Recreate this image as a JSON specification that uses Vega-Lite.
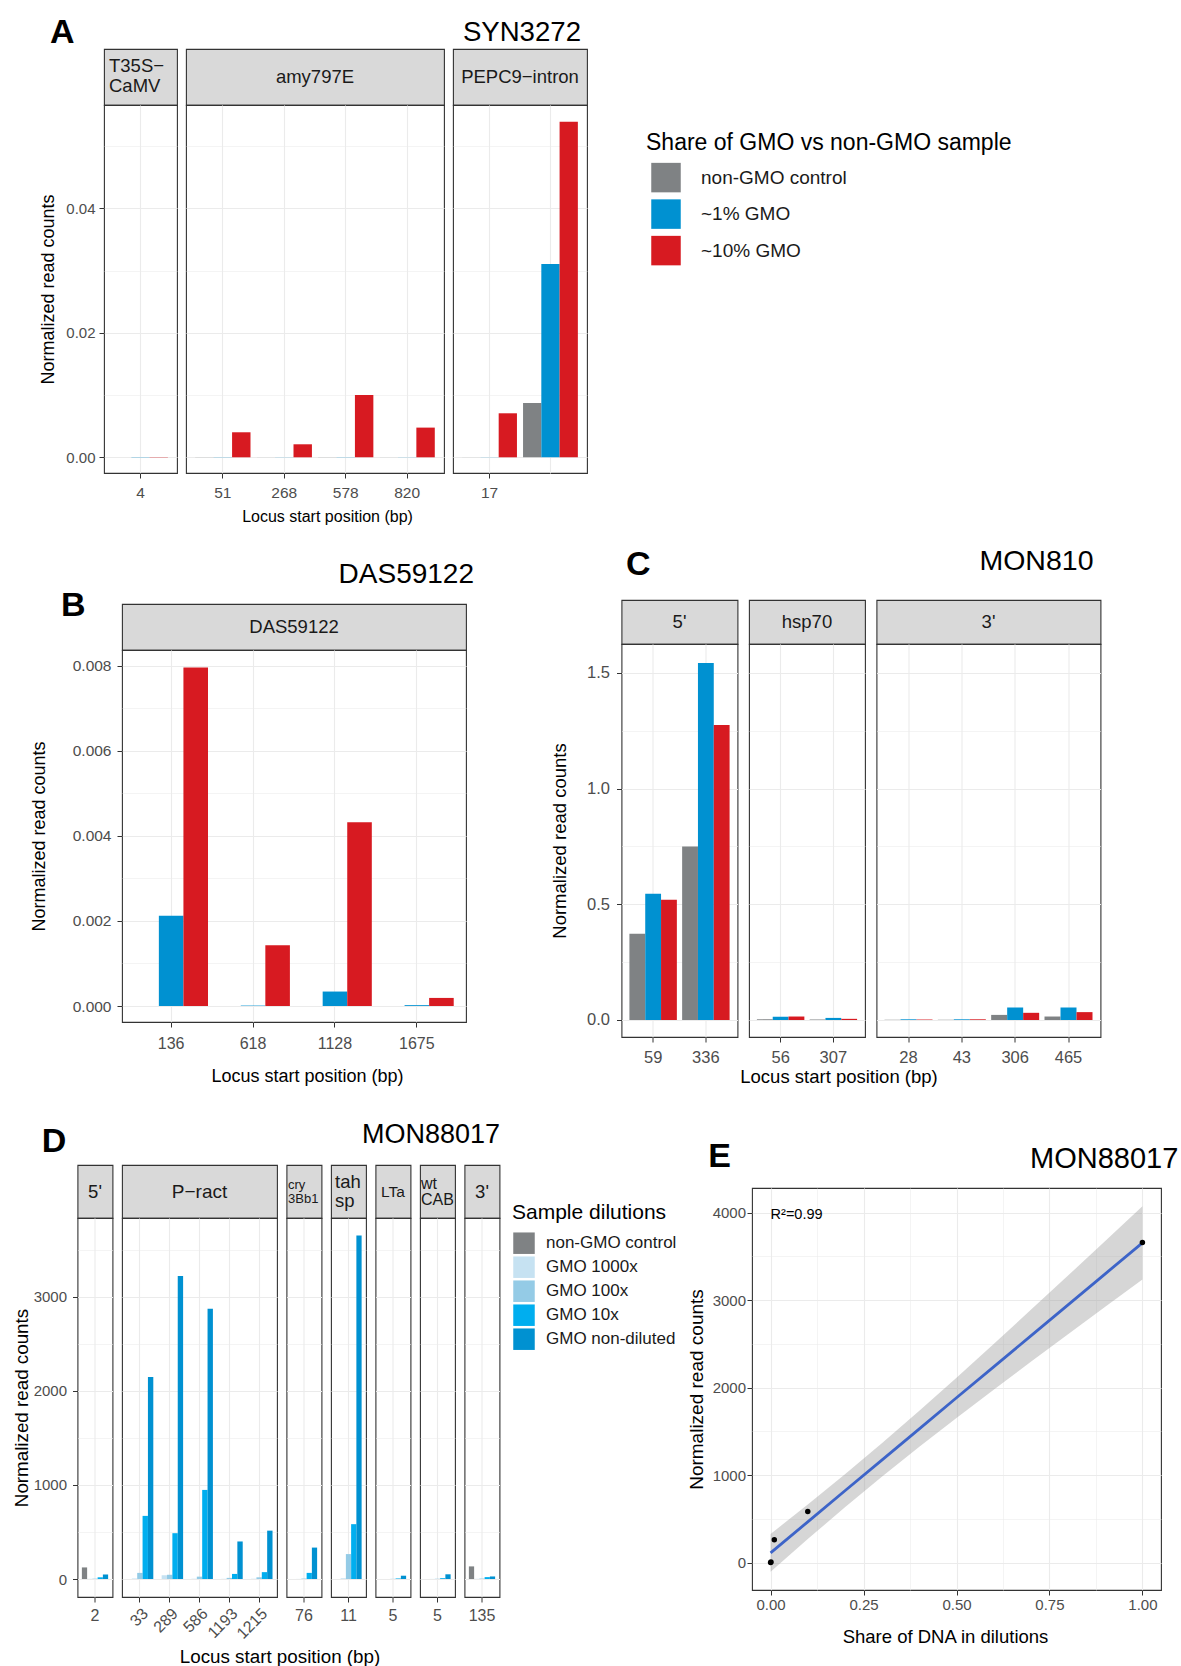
{
"$schema": "https://vega.github.io/schema/vega-lite/v6.json",
"padding": 0,
"background": "#ffffff",
"config": {
 "font": "Liberation Sans",
 "view": {"stroke": null},
 "axis": {"domain": false, "tickColor": "#333333", "tickWidth": 1, "tickSize": 5, "labelColor": "#4d4d4d", "titleColor": "#000000", "titleFontWeight": "normal", "gridColor": "#ebebeb", "labelFlush": false, "labelOverlap": false, "labelFont": "Liberation Sans", "titleFont": "Liberation Sans"},
 "title": {"font": "Liberation Sans", "color": "#000000", "fontWeight": "normal", "baseline": "alphabetic", "frame": "group"},
 "legend": {"padding": 0, "titleFont": "Liberation Sans", "labelFont": "Liberation Sans", "titleFontWeight": "normal", "titleColor": "#000000", "labelColor": "#1a1a1a", "symbolType": "square", "symbolStrokeWidth": 0, "titleLimit": 800, "labelLimit": 400}
},
"datasets": {
 "A": [
  {"region":"T35S","locus":"4","sample":"non-GMO control","value":0},
  {"region":"T35S","locus":"4","sample":"~1% GMO","value":0.00004},
  {"region":"T35S","locus":"4","sample":"~10% GMO","value":0.00005},
  {"region":"amy797E","locus":"51","sample":"non-GMO control","value":0.00002},
  {"region":"amy797E","locus":"51","sample":"~1% GMO","value":0.00003},
  {"region":"amy797E","locus":"51","sample":"~10% GMO","value":0.00402},
  {"region":"amy797E","locus":"268","sample":"non-GMO control","value":0.00001},
  {"region":"amy797E","locus":"268","sample":"~1% GMO","value":0.00002},
  {"region":"amy797E","locus":"268","sample":"~10% GMO","value":0.00209},
  {"region":"amy797E","locus":"578","sample":"non-GMO control","value":0.00002},
  {"region":"amy797E","locus":"578","sample":"~1% GMO","value":0.00003},
  {"region":"amy797E","locus":"578","sample":"~10% GMO","value":0.01001},
  {"region":"amy797E","locus":"820","sample":"non-GMO control","value":0.00001},
  {"region":"amy797E","locus":"820","sample":"~1% GMO","value":0.00002},
  {"region":"amy797E","locus":"820","sample":"~10% GMO","value":0.00477},
  {"region":"PEPC9","locus":"17","sample":"non-GMO control","value":0.00001},
  {"region":"PEPC9","locus":"17","sample":"~1% GMO","value":0.00002},
  {"region":"PEPC9","locus":"17","sample":"~10% GMO","value":0.00707},
  {"region":"PEPC9","locus":"?","sample":"non-GMO control","value":0.00873},
  {"region":"PEPC9","locus":"?","sample":"~1% GMO","value":0.03106},
  {"region":"PEPC9","locus":"?","sample":"~10% GMO","value":0.05392}
 ],
 "B": [
  {"locus":"136","sample":"non-GMO control","value":0},
  {"locus":"136","sample":"~1% GMO","value":0.00212},
  {"locus":"136","sample":"~10% GMO","value":0.00796},
  {"locus":"618","sample":"non-GMO control","value":0},
  {"locus":"618","sample":"~1% GMO","value":0.00001},
  {"locus":"618","sample":"~10% GMO","value":0.00143},
  {"locus":"1128","sample":"non-GMO control","value":0},
  {"locus":"1128","sample":"~1% GMO","value":0.00034},
  {"locus":"1128","sample":"~10% GMO","value":0.00432},
  {"locus":"1675","sample":"non-GMO control","value":0},
  {"locus":"1675","sample":"~1% GMO","value":0.00002},
  {"locus":"1675","sample":"~10% GMO","value":0.00019}
 ],
 "C": [
  {"region":"5'","locus":"59","sample":"non-GMO control","value":0.373},
  {"region":"5'","locus":"59","sample":"~1% GMO","value":0.546},
  {"region":"5'","locus":"59","sample":"~10% GMO","value":0.520},
  {"region":"5'","locus":"336","sample":"non-GMO control","value":0.750},
  {"region":"5'","locus":"336","sample":"~1% GMO","value":1.543},
  {"region":"5'","locus":"336","sample":"~10% GMO","value":1.275},
  {"region":"hsp70","locus":"56","sample":"non-GMO control","value":0.003},
  {"region":"hsp70","locus":"56","sample":"~1% GMO","value":0.014},
  {"region":"hsp70","locus":"56","sample":"~10% GMO","value":0.015},
  {"region":"hsp70","locus":"307","sample":"non-GMO control","value":0.002},
  {"region":"hsp70","locus":"307","sample":"~1% GMO","value":0.009},
  {"region":"hsp70","locus":"307","sample":"~10% GMO","value":0.005},
  {"region":"3'","locus":"28","sample":"non-GMO control","value":0.001},
  {"region":"3'","locus":"28","sample":"~1% GMO","value":0.003},
  {"region":"3'","locus":"28","sample":"~10% GMO","value":0.002},
  {"region":"3'","locus":"43","sample":"non-GMO control","value":0.001},
  {"region":"3'","locus":"43","sample":"~1% GMO","value":0.003},
  {"region":"3'","locus":"43","sample":"~10% GMO","value":0.003},
  {"region":"3'","locus":"306","sample":"non-GMO control","value":0.022},
  {"region":"3'","locus":"306","sample":"~1% GMO","value":0.054},
  {"region":"3'","locus":"306","sample":"~10% GMO","value":0.031},
  {"region":"3'","locus":"465","sample":"non-GMO control","value":0.015},
  {"region":"3'","locus":"465","sample":"~1% GMO","value":0.054},
  {"region":"3'","locus":"465","sample":"~10% GMO","value":0.034}
 ],
 "D": [
  {"region":"5'","locus":"2","sample":"non-GMO control","value":123},
  {"region":"5'","locus":"2","sample":"GMO 1000x","value":2},
  {"region":"5'","locus":"2","sample":"GMO 100x","value":4},
  {"region":"5'","locus":"2","sample":"GMO 10x","value":18},
  {"region":"5'","locus":"2","sample":"GMO non-diluted","value":48},
  {"region":"P-ract","locus":"33","sample":"non-GMO control","value":0},
  {"region":"P-ract","locus":"33","sample":"GMO 1000x","value":6},
  {"region":"P-ract","locus":"33","sample":"GMO 100x","value":65},
  {"region":"P-ract","locus":"33","sample":"GMO 10x","value":671},
  {"region":"P-ract","locus":"33","sample":"GMO non-diluted","value":2148},
  {"region":"P-ract","locus":"289","sample":"non-GMO control","value":0},
  {"region":"P-ract","locus":"289","sample":"GMO 1000x","value":40},
  {"region":"P-ract","locus":"289","sample":"GMO 100x","value":45},
  {"region":"P-ract","locus":"289","sample":"GMO 10x","value":487},
  {"region":"P-ract","locus":"289","sample":"GMO non-diluted","value":3222},
  {"region":"P-ract","locus":"586","sample":"non-GMO control","value":0},
  {"region":"P-ract","locus":"586","sample":"GMO 1000x","value":3},
  {"region":"P-ract","locus":"586","sample":"GMO 100x","value":25},
  {"region":"P-ract","locus":"586","sample":"GMO 10x","value":947},
  {"region":"P-ract","locus":"586","sample":"GMO non-diluted","value":2873},
  {"region":"P-ract","locus":"1193","sample":"non-GMO control","value":0},
  {"region":"P-ract","locus":"1193","sample":"GMO 1000x","value":2},
  {"region":"P-ract","locus":"1193","sample":"GMO 100x","value":12},
  {"region":"P-ract","locus":"1193","sample":"GMO 10x","value":54},
  {"region":"P-ract","locus":"1193","sample":"GMO non-diluted","value":399},
  {"region":"P-ract","locus":"1215","sample":"non-GMO control","value":0},
  {"region":"P-ract","locus":"1215","sample":"GMO 1000x","value":3},
  {"region":"P-ract","locus":"1215","sample":"GMO 100x","value":18},
  {"region":"P-ract","locus":"1215","sample":"GMO 10x","value":73},
  {"region":"P-ract","locus":"1215","sample":"GMO non-diluted","value":514},
  {"region":"cry3Bb1","locus":"76","sample":"non-GMO control","value":0},
  {"region":"cry3Bb1","locus":"76","sample":"GMO 1000x","value":1},
  {"region":"cry3Bb1","locus":"76","sample":"GMO 100x","value":5},
  {"region":"cry3Bb1","locus":"76","sample":"GMO 10x","value":65},
  {"region":"cry3Bb1","locus":"76","sample":"GMO non-diluted","value":334},
  {"region":"tahsp","locus":"11","sample":"non-GMO control","value":0},
  {"region":"tahsp","locus":"11","sample":"GMO 1000x","value":8},
  {"region":"tahsp","locus":"11","sample":"GMO 100x","value":265},
  {"region":"tahsp","locus":"11","sample":"GMO 10x","value":583},
  {"region":"tahsp","locus":"11","sample":"GMO non-diluted","value":3652},
  {"region":"LTa","locus":"5","sample":"non-GMO control","value":0},
  {"region":"LTa","locus":"5","sample":"GMO 1000x","value":0},
  {"region":"LTa","locus":"5","sample":"GMO 100x","value":2},
  {"region":"LTa","locus":"5","sample":"GMO 10x","value":6},
  {"region":"LTa","locus":"5","sample":"GMO non-diluted","value":35},
  {"region":"wtCAB","locus":"5","sample":"non-GMO control","value":0},
  {"region":"wtCAB","locus":"5","sample":"GMO 1000x","value":1},
  {"region":"wtCAB","locus":"5","sample":"GMO 100x","value":3},
  {"region":"wtCAB","locus":"5","sample":"GMO 10x","value":9},
  {"region":"wtCAB","locus":"5","sample":"GMO non-diluted","value":50},
  {"region":"3'","locus":"135","sample":"non-GMO control","value":134},
  {"region":"3'","locus":"135","sample":"GMO 1000x","value":2},
  {"region":"3'","locus":"135","sample":"GMO 100x","value":5},
  {"region":"3'","locus":"135","sample":"GMO 10x","value":20},
  {"region":"3'","locus":"135","sample":"GMO non-diluted","value":27}
 ],
 "E_band": [
  {"x":0,"lo":-104,"hi":328,"fit":112},
  {"x":0.1,"lo":269,"hi":663,"fit":466},
  {"x":0.2,"lo":633,"hi":1009,"fit":821},
  {"x":0.3,"lo":984,"hi":1366,"fit":1175},
  {"x":0.4,"lo":1323,"hi":1735,"fit":1529},
  {"x":0.5,"lo":1654,"hi":2114,"fit":1884},
  {"x":0.6,"lo":1977,"hi":2499,"fit":2238},
  {"x":0.7,"lo":2295,"hi":2889,"fit":2592},
  {"x":0.8,"lo":2611,"hi":3281,"fit":2946},
  {"x":0.9,"lo":2925,"hi":3677,"fit":3301},
  {"x":1.0,"lo":3237,"hi":4073,"fit":3655}
 ],
 "E_pts": [
  {"share":0,"reads":0},
  {"share":0.001,"reads":8},
  {"share":0.01,"reads":262},
  {"share":0.1,"reads":584},
  {"share":1,"reads":3660}
 ]
},
"resolve": {"scale": {"color": "independent", "xOffset": "independent"}, "legend": {"color": "independent"}},
"spacing": 0,
"vconcat": [
 {
  "columns": 4, "spacing": {"row": 0, "column": 9}, "align": "each", "bounds": "flush",
  "resolve": {"scale": {"xOffset": "independent"}},
  "concat": [
   {"width":95,"height":49,"data":{"values":[]},"mark":"point"},
   {"width":1,"height":1,"data":{"values":[]},"mark":"point"},
   {"width":1,"height":1,"data":{"values":[]},"mark":"point"},
   {"width":1,"height":1,"data":{"values":[]},"mark":"point"},
   {"width":1,"height":1,"data":{"values":[]},"mark":"point"},
   {"width":73,"height":56,"view":{"fill":"#d9d9d9","stroke":"#333333","strokeWidth":1.1},
    "title":{"text":"A","anchor":"start","dx":-54,"offset":-0.5,"fontSize":34,"fontWeight":"bold"},
    "data":{"values":[{"label":"T35S\u2212\nCaMV"}]},
    "mark":{"type":"text","fontSize":18.5,"color":"#1a1a1a","lineBreak":"\n","lineHeight":20,"align":"left","dx":-31.5,"dy":-11},
    "encoding":{"text":{"field":"label"}}},
   {"width":258,"height":56,"view":{"fill":"#d9d9d9","stroke":"#333333","strokeWidth":1.1},
    "data":{"values":[{"label":"amy797E"}]},
    "mark":{"type":"text","fontSize":18.5,"color":"#1a1a1a"},
    "encoding":{"text":{"field":"label"}}},
   {"width":134,"height":56,"view":{"fill":"#d9d9d9","stroke":"#333333","strokeWidth":1.1},
    "title":{"text":"SYN3272","anchor":"end","dx":-6,"offset":2.5,"fontSize":27.6},
    "data":{"values":[{"label":"PEPC9\u2212intron"}]},
    "mark":{"type":"text","fontSize":18.5,"color":"#1a1a1a"},
    "encoding":{"text":{"field":"label"}}},
   {"width":1,"height":1,"data":{"values":[]},"mark":"point"},
   {"width":73,"height":368,"view":{"stroke":"#333333","strokeWidth":1.1},
    "data":{"name":"A"},"transform":[{"filter":"datum.region == 'T35S'"}],
    "mark":{"type":"bar"},
    "encoding":{
     "x":{"field":"locus","type":"nominal","sort":null,"scale":{"paddingInner":0.1,"paddingOuter":0.15},
      "axis":{"title":null,"labelAngle":0,"labelFontSize":15.5,"labelPadding":7.5,"grid":true,"gridWidth":1.1,"bandPosition":0.5}},
     "xOffset":{"field":"sample","type":"nominal","scale":{"domain":["non-GMO control","~1% GMO","~10% GMO"],"paddingInner":0,"paddingOuter":0}},
     "y":{"field":"value","type":"quantitative","scale":{"domain":[-0.002522,0.056594],"nice":false,"zero":false},
      "axis":{"values":[0,0.01,0.02,0.03,0.04,0.05],"title":"Normalized read counts","titleFontSize":18,"titleX":-56,"titleBaseline":"middle","labelFontSize":15,"labelPadding":4,
       "labelExpr":"indexof([0,0.02,0.04],datum.value)>=0 ? format(datum.value,'.2f') : ''",
       "tickOpacity":{"condition":{"test":"indexof([0,0.02,0.04],datum.value)>=0","value":1},"value":0},
       "gridWidth":{"condition":{"test":"indexof([0,0.02,0.04],datum.value)>=0","value":1.1},"value":0.55}}},
     "color":{"field":"sample","type":"nominal","scale":{"domain":["non-GMO control","~1% GMO","~10% GMO"],"range":["#7f8284","#0091d1","#d71a21"]},
      "legend":{"title":"Share of GMO vs non-GMO sample","orient":"none","legendX":646,"legendY":131.6,"titleFontSize":23,"titlePadding":8,"labelFontSize":19,"labelOffset":20,"symbolSize":870,"symbolOffset":5,"rowPadding":6.5}}
    }},
   {"width":258,"height":368,"view":{"stroke":"#333333","strokeWidth":1.1},
    "data":{"name":"A"},"transform":[{"filter":"datum.region == 'amy797E'"}],
    "mark":{"type":"bar"},
    "encoding":{
     "x":{"field":"locus","type":"nominal","sort":null,"scale":{"paddingInner":0.1,"paddingOuter":0.15},
      "axis":{"title":"Locus start position (bp)","titleFontSize":16,"titleX":141,"titleY":43,"titleBaseline":"middle","labelAngle":0,"labelFontSize":15.5,"labelPadding":7.5,"grid":true,"gridWidth":1.1,"bandPosition":0.5}},
     "xOffset":{"field":"sample","type":"nominal","scale":{"domain":["non-GMO control","~1% GMO","~10% GMO"],"paddingInner":0,"paddingOuter":0}},
     "y":{"field":"value","type":"quantitative","scale":{"domain":[-0.002522,0.056594],"nice":false,"zero":false},
      "axis":{"values":[0,0.01,0.02,0.03,0.04,0.05],"labels":false,"ticks":false,"title":null,
       "gridWidth":{"condition":{"test":"indexof([0,0.02,0.04],datum.value)>=0","value":1.1},"value":0.55}}},
     "color":{"field":"sample","type":"nominal","scale":{"domain":["non-GMO control","~1% GMO","~10% GMO"],"range":["#7f8284","#0091d1","#d71a21"]},
      "legend":{"title":"Share of GMO vs non-GMO sample","orient":"none","legendX":646,"legendY":131.6,"titleFontSize":23,"titlePadding":8,"labelFontSize":19,"labelOffset":20,"symbolSize":870,"symbolOffset":5,"rowPadding":6.5}}
    }},
   {"width":134,"height":368,"view":{"stroke":"#333333","strokeWidth":1.1},
    "data":{"name":"A"},"transform":[{"filter":"datum.region == 'PEPC9'"}],
    "mark":{"type":"bar"},
    "encoding":{
     "x":{"field":"locus","type":"nominal","sort":null,"scale":{"paddingInner":0.1,"paddingOuter":0.15},
      "axis":{"title":null,"labelAngle":0,"labelFontSize":15.5,"labelPadding":7.5,"grid":true,"gridWidth":1.1,"bandPosition":0.5,
       "labelExpr":"datum.value == '?' ? '' : datum.value",
       "tickOpacity":{"condition":{"test":"datum.value == '?'","value":0},"value":1}}},
     "xOffset":{"field":"sample","type":"nominal","scale":{"domain":["non-GMO control","~1% GMO","~10% GMO"],"paddingInner":0,"paddingOuter":0}},
     "y":{"field":"value","type":"quantitative","scale":{"domain":[-0.002522,0.056594],"nice":false,"zero":false},
      "axis":{"values":[0,0.01,0.02,0.03,0.04,0.05],"labels":false,"ticks":false,"title":null,
       "gridWidth":{"condition":{"test":"indexof([0,0.02,0.04],datum.value)>=0","value":1.1},"value":0.55}}},
     "color":{"field":"sample","type":"nominal","scale":{"domain":["non-GMO control","~1% GMO","~10% GMO"],"range":["#7f8284","#0091d1","#d71a21"]},
      "legend":{"title":"Share of GMO vs non-GMO sample","orient":"none","legendX":646,"legendY":131.6,"titleFontSize":23,"titlePadding":8,"labelFontSize":19,"labelOffset":20,"symbolSize":870,"symbolOffset":5,"rowPadding":6.5}}
    }},
   {"width":1,"height":57,"data":{"values":[]},"mark":"point"}
  ]
 },
 {
  "spacing": 0,
  "resolve": {"scale": {"xOffset": "independent"}},
  "hconcat": [
   {
    "columns": 2, "spacing": {"row": 0, "column": 0}, "align": "each", "bounds": "flush",
    "resolve": {"scale": {"xOffset": "independent"}},
    "concat": [
     {"width":122,"height":74,"data":{"values":[]},"mark":"point"},
     {"width":354,"height":1,"data":{"values":[]},"mark":"point"},
     {"width":122,"height":46,"data":{"values":[]},"mark":"point",
      "title":{"text":"B","anchor":"start","dx":61,"offset":-18.5,"fontSize":34,"fontWeight":"bold"}},
     {"width":344,"height":46,"view":{"fill":"#d9d9d9","stroke":"#333333","strokeWidth":1.1},
      "title":{"text":"DAS59122","anchor":"end","dx":8,"offset":14.6,"fontSize":28},
      "data":{"values":[{"label":"DAS59122"}]},
      "mark":{"type":"text","fontSize":18.5,"color":"#1a1a1a"},
      "encoding":{"text":{"field":"label"}}},
     {"width":1,"height":1,"data":{"values":[]},"mark":"point"},
     {"width":344,"height":372,"view":{"stroke":"#333333","strokeWidth":1.1},
      "data":{"name":"B"},
      "mark":{"type":"bar"},
      "encoding":{
       "x":{"field":"locus","type":"nominal","sort":null,"scale":{"paddingInner":0.1,"paddingOuter":0.15},
        "axis":{"title":"Locus start position (bp)","titleFontSize":18,"titleX":185,"titleY":54,"titleBaseline":"middle","labelAngle":0,"labelFontSize":16,"labelPadding":8,"grid":true,"gridWidth":1.1,"bandPosition":0.5}},
       "xOffset":{"field":"sample","type":"nominal","scale":{"domain":["non-GMO control","~1% GMO","~10% GMO"],"paddingInner":0,"paddingOuter":0}},
       "y":{"field":"value","type":"quantitative","scale":{"domain":[-0.000376,0.008369],"nice":false,"zero":false},
        "axis":{"values":[0,0.001,0.002,0.003,0.004,0.005,0.006,0.007,0.008],"title":"Normalized read counts","titleFontSize":18,"titleX":-83,"titleBaseline":"middle","labelFontSize":15.5,"labelPadding":6,
         "labelExpr":"indexof([0,0.002,0.004,0.006,0.008],datum.value)>=0 ? format(datum.value,'.3f') : ''",
         "tickOpacity":{"condition":{"test":"indexof([0,0.002,0.004,0.006,0.008],datum.value)>=0","value":1},"value":0},
         "gridWidth":{"condition":{"test":"indexof([0,0.002,0.004,0.006,0.008],datum.value)>=0","value":1.1},"value":0.55}}},
       "color":{"field":"sample","type":"nominal","scale":{"domain":["non-GMO control","~1% GMO","~10% GMO"],"range":["#7f8284","#0091d1","#d71a21"]},"legend":null}
      }}
    ]
   },
   {
    "columns": 4, "spacing": {"row": 0, "column": 11.5}, "align": "each", "bounds": "flush",
    "resolve": {"scale": {"xOffset": "independent"}},
    "concat": [
     {"width":134,"height":70,"data":{"values":[]},"mark":"point"},
     {"width":1,"height":1,"data":{"values":[]},"mark":"point"},
     {"width":1,"height":1,"data":{"values":[]},"mark":"point"},
     {"width":1,"height":1,"data":{"values":[]},"mark":"point"},
     {"width":1,"height":1,"data":{"values":[]},"mark":"point"},
     {"width":116,"height":44,"view":{"fill":"#d9d9d9","stroke":"#333333","strokeWidth":1.1},
      "title":{"text":"C","anchor":"start","dx":4.5,"offset":18.3,"fontSize":34,"fontWeight":"bold"},
      "data":{"values":[{"label":"5'"}]},
      "mark":{"type":"text","fontSize":18.5,"color":"#1a1a1a"},
      "encoding":{"text":{"field":"label"}}},
     {"width":116,"height":44,"view":{"fill":"#d9d9d9","stroke":"#333333","strokeWidth":1.1},
      "data":{"values":[{"label":"hsp70"}]},
      "mark":{"type":"text","fontSize":18.5,"color":"#1a1a1a"},
      "encoding":{"text":{"field":"label"}}},
     {"width":224,"height":44,"view":{"fill":"#d9d9d9","stroke":"#333333","strokeWidth":1.1},
      "title":{"text":"MON810","anchor":"end","dx":-7,"offset":24.7,"fontSize":28.5},
      "data":{"values":[{"label":"3'"}]},
      "mark":{"type":"text","fontSize":18.5,"color":"#1a1a1a"},
      "encoding":{"text":{"field":"label"}}},
     {"width":1,"height":1,"data":{"values":[]},"mark":"point"},
     {"width":116,"height":393,"view":{"stroke":"#333333","strokeWidth":1.1},
      "data":{"name":"C"},"transform":[{"filter":"datum.region == \"5'\""}],
      "mark":{"type":"bar"},
      "encoding":{
       "x":{"field":"locus","type":"nominal","sort":null,"scale":{"paddingInner":0.1,"paddingOuter":0.15},
        "axis":{"title":null,"labelAngle":0,"labelFontSize":16.5,"labelPadding":7.7,"grid":true,"gridWidth":1.1,"bandPosition":0.5}},
       "xOffset":{"field":"sample","type":"nominal","scale":{"domain":["non-GMO control","~1% GMO","~10% GMO"],"paddingInner":0,"paddingOuter":0}},
       "y":{"field":"value","type":"quantitative","scale":{"domain":[-0.0735,1.6249],"nice":false,"zero":false},
        "axis":{"values":[0,0.25,0.5,0.75,1,1.25,1.5],"title":"Normalized read counts","titleFontSize":18.5,"titleX":-62.4,"titleBaseline":"middle","labelFontSize":16.5,"labelPadding":7,
         "labelExpr":"indexof([0,0.5,1,1.5],datum.value)>=0 ? format(datum.value,'.1f') : ''",
         "tickOpacity":{"condition":{"test":"indexof([0,0.5,1,1.5],datum.value)>=0","value":1},"value":0},
         "gridWidth":{"condition":{"test":"indexof([0,0.5,1,1.5],datum.value)>=0","value":1.1},"value":0.55}}},
       "color":{"field":"sample","type":"nominal","scale":{"domain":["non-GMO control","~1% GMO","~10% GMO"],"range":["#7f8284","#0091d1","#d71a21"]},"legend":null}
      }},
     {"width":116,"height":393,"view":{"stroke":"#333333","strokeWidth":1.1},
      "data":{"name":"C"},"transform":[{"filter":"datum.region == 'hsp70'"}],
      "mark":{"type":"bar"},
      "encoding":{
       "x":{"field":"locus","type":"nominal","sort":null,"scale":{"paddingInner":0.1,"paddingOuter":0.15},
        "axis":{"title":"Locus start position (bp)","titleFontSize":18.5,"titleX":89.5,"titleY":39.4,"titleBaseline":"middle","labelAngle":0,"labelFontSize":16.5,"labelPadding":7.7,"grid":true,"gridWidth":1.1,"bandPosition":0.5}},
       "xOffset":{"field":"sample","type":"nominal","scale":{"domain":["non-GMO control","~1% GMO","~10% GMO"],"paddingInner":0,"paddingOuter":0}},
       "y":{"field":"value","type":"quantitative","scale":{"domain":[-0.0735,1.6249],"nice":false,"zero":false},
        "axis":{"values":[0,0.25,0.5,0.75,1,1.25,1.5],"labels":false,"ticks":false,"title":null,
         "gridWidth":{"condition":{"test":"indexof([0,0.5,1,1.5],datum.value)>=0","value":1.1},"value":0.55}}},
       "color":{"field":"sample","type":"nominal","scale":{"domain":["non-GMO control","~1% GMO","~10% GMO"],"range":["#7f8284","#0091d1","#d71a21"]},"legend":null}
      }},
     {"width":224,"height":393,"view":{"stroke":"#333333","strokeWidth":1.1},
      "data":{"name":"C"},"transform":[{"filter":"datum.region == \"3'\""}],
      "mark":{"type":"bar"},
      "encoding":{
       "x":{"field":"locus","type":"nominal","sort":null,"scale":{"paddingInner":0.1,"paddingOuter":0.15},
        "axis":{"title":null,"labelAngle":0,"labelFontSize":16.5,"labelPadding":7.7,"grid":true,"gridWidth":1.1,"bandPosition":0.5}},
       "xOffset":{"field":"sample","type":"nominal","scale":{"domain":["non-GMO control","~1% GMO","~10% GMO"],"paddingInner":0,"paddingOuter":0}},
       "y":{"field":"value","type":"quantitative","scale":{"domain":[-0.0735,1.6249],"nice":false,"zero":false},
        "axis":{"values":[0,0.25,0.5,0.75,1,1.25,1.5],"labels":false,"ticks":false,"title":null,
         "gridWidth":{"condition":{"test":"indexof([0,0.5,1,1.5],datum.value)>=0","value":1.1},"value":0.55}}},
       "color":{"field":"sample","type":"nominal","scale":{"domain":["non-GMO control","~1% GMO","~10% GMO"],"range":["#7f8284","#0091d1","#d71a21"]},"legend":null}
      }},
     {"width":1,"height":63,"data":{"values":[]},"mark":"point"}
    ]
   }
  ]
 },
 {
  "spacing": 0,
  "resolve": {"scale": {"xOffset": "independent"}},
  "hconcat": [
   {
    "columns": 8, "spacing": {"row": 0, "column": 9.5}, "align": "each", "bounds": "flush",
    "resolve": {"scale": {"xOffset": "independent"}},
    "concat": [
     {"width":68,"height":65,"data":{"values":[]},"mark":"point"},
     {"width":1,"height":1,"data":{"values":[]},"mark":"point"},
     {"width":1,"height":1,"data":{"values":[]},"mark":"point"},
     {"width":1,"height":1,"data":{"values":[]},"mark":"point"},
     {"width":1,"height":1,"data":{"values":[]},"mark":"point"},
     {"width":1,"height":1,"data":{"values":[]},"mark":"point"},
     {"width":1,"height":1,"data":{"values":[]},"mark":"point"},
     {"width":40,"height":1,"data":{"values":[]},"mark":"point"},
     {"width":1,"height":1,"data":{"values":[]},"mark":"point"},
     {"width":35,"height":53,"view":{"fill":"#d9d9d9","stroke":"#333333","strokeWidth":1.1},
      "title":{"text":"D","anchor":"start","dx":-35.8,"offset":5.7,"fontSize":34,"fontWeight":"bold"},
      "data":{"values":[{"label":"5'"}]},
      "mark":{"type":"text","fontSize":18.5,"color":"#1a1a1a"},
      "encoding":{"text":{"field":"label"}}},
     {"width":155,"height":53,"view":{"fill":"#d9d9d9","stroke":"#333333","strokeWidth":1.1},
      "data":{"values":[{"label":"P\u2212ract"}]},
      "mark":{"type":"text","fontSize":19,"color":"#1a1a1a"},
      "encoding":{"text":{"field":"label"}}},
     {"width":35,"height":53,"view":{"fill":"#d9d9d9","stroke":"#333333","strokeWidth":1.1},
      "data":{"values":[{"label":"cry\n3Bb1"}]},
      "mark":{"type":"text","fontSize":13,"color":"#1a1a1a","lineBreak":"\n","lineHeight":14,"align":"left","dx":-16,"dy":-7},
      "encoding":{"text":{"field":"label"}}},
     {"width":35,"height":53,"view":{"fill":"#d9d9d9","stroke":"#333333","strokeWidth":1.1},
      "data":{"values":[{"label":"tah\nsp"}]},
      "mark":{"type":"text","fontSize":18.5,"color":"#1a1a1a","lineBreak":"\n","lineHeight":19,"align":"left","dx":-13.5,"dy":-9.5},
      "encoding":{"text":{"field":"label"}}},
     {"width":35,"height":53,"view":{"fill":"#d9d9d9","stroke":"#333333","strokeWidth":1.1},
      "data":{"values":[{"label":"LTa"}]},
      "mark":{"type":"text","fontSize":15.5,"color":"#1a1a1a"},
      "encoding":{"text":{"field":"label"}}},
     {"width":35,"height":53,"view":{"fill":"#d9d9d9","stroke":"#333333","strokeWidth":1.1},
      "data":{"values":[{"label":"wt\nCAB"}]},
      "mark":{"type":"text","fontSize":16,"color":"#1a1a1a","lineBreak":"\n","lineHeight":16,"align":"left","dx":-16.5,"dy":-8},
      "encoding":{"text":{"field":"label"}}},
     {"width":35,"height":53,"view":{"fill":"#d9d9d9","stroke":"#333333","strokeWidth":1.1},
      "title":{"text":"MON88017","anchor":"end","dx":0.5,"offset":15.7,"fontSize":27},
      "data":{"values":[{"label":"3'"}]},
      "mark":{"type":"text","fontSize":18.5,"color":"#1a1a1a"},
      "encoding":{"text":{"field":"label"}}},
     {"width":1,"height":1,"data":{"values":[]},"mark":"point"},
     {"width":35,"height":379,"view":{"stroke":"#333333","strokeWidth":1.1},
      "data":{"name":"D"},"transform":[{"filter":"datum.region == \"5'\""}],
      "mark":{"type":"bar"},
      "encoding":{
       "x":{"field":"locus","type":"nominal","sort":null,"scale":{"paddingInner":0.1,"paddingOuter":0.15},
        "axis":{"title":null,"labelAngle":0,"labelFontSize":16,"labelPadding":5.5,"grid":true,"gridWidth":1.1,"bandPosition":0.5}},
       "xOffset":{"field":"sample","type":"nominal","scale":{"domain":["non-GMO control","GMO 1000x","GMO 100x","GMO 10x","GMO non-diluted"],"paddingInner":0,"paddingOuter":0}},
       "y":{"field":"value","type":"quantitative","scale":{"domain":[-191.3,3837.6],"nice":false,"zero":false},
        "axis":{"values":[0,500,1000,1500,2000,2500,3000,3500],"title":"Normalized read counts","titleFontSize":18.8,"titleX":-56.4,"titleBaseline":"middle","labelFontSize":15,"labelPadding":6,
         "labelExpr":"indexof([0,1000,2000,3000],datum.value)>=0 ? format(datum.value,'d') : ''",
         "tickOpacity":{"condition":{"test":"indexof([0,1000,2000,3000],datum.value)>=0","value":1},"value":0},
         "gridWidth":{"condition":{"test":"indexof([0,1000,2000,3000],datum.value)>=0","value":1.1},"value":0.55}}},
       "color":{"field":"sample","type":"nominal","scale":{"domain":["non-GMO control","GMO 1000x","GMO 100x","GMO 10x","GMO non-diluted"],"range":["#7f8284","#c6e2f2","#94cbe6","#00aeef","#0091d1"]},
        "legend":{"title":"Sample dilutions","orient":"none","legendX":512,"legendY":101.7,"titleFontSize":21,"titlePadding":9.5,"labelFontSize":17,"labelOffset":11,"symbolSize":462,"symbolOffset":1,"rowPadding":2}}
      }},
     {"width":155,"height":379,"view":{"stroke":"#333333","strokeWidth":1.1},
      "data":{"name":"D"},"transform":[{"filter":"datum.region == 'P-ract'"}],
      "mark":{"type":"bar"},
      "encoding":{
       "x":{"field":"locus","type":"nominal","sort":null,"scale":{"paddingInner":0.1,"paddingOuter":0.15},
        "axis":{"title":"Locus start position (bp)","titleFontSize":18.8,"titleX":157.5,"titleY":59,"titleBaseline":"middle","labelAngle":-45,"labelAlign":"right","labelBaseline":"top","labelFontSize":16,"labelPadding":3,"grid":true,"gridWidth":1.1,"bandPosition":0.5}},
       "xOffset":{"field":"sample","type":"nominal","scale":{"domain":["non-GMO control","GMO 1000x","GMO 100x","GMO 10x","GMO non-diluted"],"paddingInner":0,"paddingOuter":0}},
       "y":{"field":"value","type":"quantitative","scale":{"domain":[-191.3,3837.6],"nice":false,"zero":false},
        "axis":{"values":[0,500,1000,1500,2000,2500,3000,3500],"labels":false,"ticks":false,"title":null,
         "gridWidth":{"condition":{"test":"indexof([0,1000,2000,3000],datum.value)>=0","value":1.1},"value":0.55}}},
       "color":{"field":"sample","type":"nominal","scale":{"domain":["non-GMO control","GMO 1000x","GMO 100x","GMO 10x","GMO non-diluted"],"range":["#7f8284","#c6e2f2","#94cbe6","#00aeef","#0091d1"]},
        "legend":{"title":"Sample dilutions","orient":"none","legendX":512,"legendY":101.7,"titleFontSize":21,"titlePadding":9.5,"labelFontSize":17,"labelOffset":11,"symbolSize":462,"symbolOffset":1,"rowPadding":2}}
      }},
     {"width":35,"height":379,"view":{"stroke":"#333333","strokeWidth":1.1},
      "data":{"name":"D"},"transform":[{"filter":"datum.region == 'cry3Bb1'"}],
      "mark":{"type":"bar"},
      "encoding":{
       "x":{"field":"locus","type":"nominal","sort":null,"scale":{"paddingInner":0.1,"paddingOuter":0.15},
        "axis":{"title":null,"labelAngle":0,"labelFontSize":16,"labelPadding":5.5,"grid":true,"gridWidth":1.1,"bandPosition":0.5}},
       "xOffset":{"field":"sample","type":"nominal","scale":{"domain":["non-GMO control","GMO 1000x","GMO 100x","GMO 10x","GMO non-diluted"],"paddingInner":0,"paddingOuter":0}},
       "y":{"field":"value","type":"quantitative","scale":{"domain":[-191.3,3837.6],"nice":false,"zero":false},
        "axis":{"values":[0,500,1000,1500,2000,2500,3000,3500],"labels":false,"ticks":false,"title":null,
         "gridWidth":{"condition":{"test":"indexof([0,1000,2000,3000],datum.value)>=0","value":1.1},"value":0.55}}},
       "color":{"field":"sample","type":"nominal","scale":{"domain":["non-GMO control","GMO 1000x","GMO 100x","GMO 10x","GMO non-diluted"],"range":["#7f8284","#c6e2f2","#94cbe6","#00aeef","#0091d1"]},
        "legend":{"title":"Sample dilutions","orient":"none","legendX":512,"legendY":101.7,"titleFontSize":21,"titlePadding":9.5,"labelFontSize":17,"labelOffset":11,"symbolSize":462,"symbolOffset":1,"rowPadding":2}}
      }},
     {"width":35,"height":379,"view":{"stroke":"#333333","strokeWidth":1.1},
      "data":{"name":"D"},"transform":[{"filter":"datum.region == 'tahsp'"}],
      "mark":{"type":"bar"},
      "encoding":{
       "x":{"field":"locus","type":"nominal","sort":null,"scale":{"paddingInner":0.1,"paddingOuter":0.15},
        "axis":{"title":null,"labelAngle":0,"labelFontSize":16,"labelPadding":5.5,"grid":true,"gridWidth":1.1,"bandPosition":0.5}},
       "xOffset":{"field":"sample","type":"nominal","scale":{"domain":["non-GMO control","GMO 1000x","GMO 100x","GMO 10x","GMO non-diluted"],"paddingInner":0,"paddingOuter":0}},
       "y":{"field":"value","type":"quantitative","scale":{"domain":[-191.3,3837.6],"nice":false,"zero":false},
        "axis":{"values":[0,500,1000,1500,2000,2500,3000,3500],"labels":false,"ticks":false,"title":null,
         "gridWidth":{"condition":{"test":"indexof([0,1000,2000,3000],datum.value)>=0","value":1.1},"value":0.55}}},
       "color":{"field":"sample","type":"nominal","scale":{"domain":["non-GMO control","GMO 1000x","GMO 100x","GMO 10x","GMO non-diluted"],"range":["#7f8284","#c6e2f2","#94cbe6","#00aeef","#0091d1"]},
        "legend":{"title":"Sample dilutions","orient":"none","legendX":512,"legendY":101.7,"titleFontSize":21,"titlePadding":9.5,"labelFontSize":17,"labelOffset":11,"symbolSize":462,"symbolOffset":1,"rowPadding":2}}
      }},
     {"width":35,"height":379,"view":{"stroke":"#333333","strokeWidth":1.1},
      "data":{"name":"D"},"transform":[{"filter":"datum.region == 'LTa'"}],
      "mark":{"type":"bar"},
      "encoding":{
       "x":{"field":"locus","type":"nominal","sort":null,"scale":{"paddingInner":0.1,"paddingOuter":0.15},
        "axis":{"title":null,"labelAngle":0,"labelFontSize":16,"labelPadding":5.5,"grid":true,"gridWidth":1.1,"bandPosition":0.5}},
       "xOffset":{"field":"sample","type":"nominal","scale":{"domain":["non-GMO control","GMO 1000x","GMO 100x","GMO 10x","GMO non-diluted"],"paddingInner":0,"paddingOuter":0}},
       "y":{"field":"value","type":"quantitative","scale":{"domain":[-191.3,3837.6],"nice":false,"zero":false},
        "axis":{"values":[0,500,1000,1500,2000,2500,3000,3500],"labels":false,"ticks":false,"title":null,
         "gridWidth":{"condition":{"test":"indexof([0,1000,2000,3000],datum.value)>=0","value":1.1},"value":0.55}}},
       "color":{"field":"sample","type":"nominal","scale":{"domain":["non-GMO control","GMO 1000x","GMO 100x","GMO 10x","GMO non-diluted"],"range":["#7f8284","#c6e2f2","#94cbe6","#00aeef","#0091d1"]},
        "legend":{"title":"Sample dilutions","orient":"none","legendX":512,"legendY":101.7,"titleFontSize":21,"titlePadding":9.5,"labelFontSize":17,"labelOffset":11,"symbolSize":462,"symbolOffset":1,"rowPadding":2}}
      }},
     {"width":35,"height":379,"view":{"stroke":"#333333","strokeWidth":1.1},
      "data":{"name":"D"},"transform":[{"filter":"datum.region == 'wtCAB'"}],
      "mark":{"type":"bar"},
      "encoding":{
       "x":{"field":"locus","type":"nominal","sort":null,"scale":{"paddingInner":0.1,"paddingOuter":0.15},
        "axis":{"title":null,"labelAngle":0,"labelFontSize":16,"labelPadding":5.5,"grid":true,"gridWidth":1.1,"bandPosition":0.5}},
       "xOffset":{"field":"sample","type":"nominal","scale":{"domain":["non-GMO control","GMO 1000x","GMO 100x","GMO 10x","GMO non-diluted"],"paddingInner":0,"paddingOuter":0}},
       "y":{"field":"value","type":"quantitative","scale":{"domain":[-191.3,3837.6],"nice":false,"zero":false},
        "axis":{"values":[0,500,1000,1500,2000,2500,3000,3500],"labels":false,"ticks":false,"title":null,
         "gridWidth":{"condition":{"test":"indexof([0,1000,2000,3000],datum.value)>=0","value":1.1},"value":0.55}}},
       "color":{"field":"sample","type":"nominal","scale":{"domain":["non-GMO control","GMO 1000x","GMO 100x","GMO 10x","GMO non-diluted"],"range":["#7f8284","#c6e2f2","#94cbe6","#00aeef","#0091d1"]},
        "legend":{"title":"Sample dilutions","orient":"none","legendX":512,"legendY":101.7,"titleFontSize":21,"titlePadding":9.5,"labelFontSize":17,"labelOffset":11,"symbolSize":462,"symbolOffset":1,"rowPadding":2}}
      }},
     {"width":35,"height":379,"view":{"stroke":"#333333","strokeWidth":1.1},
      "data":{"name":"D"},"transform":[{"filter":"datum.region == \"3'\""}],
      "mark":{"type":"bar"},
      "encoding":{
       "x":{"field":"locus","type":"nominal","sort":null,"scale":{"paddingInner":0.1,"paddingOuter":0.15},
        "axis":{"title":null,"labelAngle":0,"labelFontSize":16,"labelPadding":5.5,"grid":true,"gridWidth":1.1,"bandPosition":0.5}},
       "xOffset":{"field":"sample","type":"nominal","scale":{"domain":["non-GMO control","GMO 1000x","GMO 100x","GMO 10x","GMO non-diluted"],"paddingInner":0,"paddingOuter":0}},
       "y":{"field":"value","type":"quantitative","scale":{"domain":[-191.3,3837.6],"nice":false,"zero":false},
        "axis":{"values":[0,500,1000,1500,2000,2500,3000,3500],"labels":false,"ticks":false,"title":null,
         "gridWidth":{"condition":{"test":"indexof([0,1000,2000,3000],datum.value)>=0","value":1.1},"value":0.55}}},
       "color":{"field":"sample","type":"nominal","scale":{"domain":["non-GMO control","GMO 1000x","GMO 100x","GMO 10x","GMO non-diluted"],"range":["#7f8284","#c6e2f2","#94cbe6","#00aeef","#0091d1"]},
        "legend":{"title":"Sample dilutions","orient":"none","legendX":512,"legendY":101.7,"titleFontSize":21,"titlePadding":9.5,"labelFontSize":17,"labelOffset":11,"symbolSize":462,"symbolOffset":1,"rowPadding":2}}
      }}
    ]
   },
   {
    "columns": 2, "spacing": {"row": 0, "column": 0}, "align": "each", "bounds": "flush",
    "concat": [
     {"width":247,"height":88,"data":{"values":[]},"mark":"point"},
     {"width":409,"height":1,"data":{"values":[]},"mark":"point"},
     {"width":247,"height":1,"data":{"values":[]},"mark":"point",
      "title":{"text":"E","anchor":"start","dx":203.3,"offset":13.8,"fontSize":34,"fontWeight":"bold"}},
     {"width":409,"height":402,"view":{"stroke":"#333333","strokeWidth":1.1},
      "title":{"text":"MON88017","anchor":"end","dx":17.3,"offset":14.1,"fontSize":29},
      "layer":[
       {"data":{"name":"E_band"},"mark":{"type":"area","color":"#999999","opacity":0.4},
        "encoding":{
         "x":{"field":"x","type":"quantitative","scale":{"domain":[-0.05,1.05],"nice":false,"zero":false},
          "axis":{"values":[0,0.125,0.25,0.375,0.5,0.625,0.75,0.875,1],"title":"Share of DNA in dilutions","titleFontSize":18.5,"titleX":193,"titleY":46.8,"titleBaseline":"middle","labelFontSize":15,"labelPadding":2,"grid":true,
           "labelExpr":"indexof([0,0.25,0.5,0.75,1],datum.value)>=0 ? format(datum.value,'.2f') : ''",
           "tickOpacity":{"condition":{"test":"indexof([0,0.25,0.5,0.75,1],datum.value)>=0","value":1},"value":0},
           "gridWidth":{"condition":{"test":"indexof([0,0.25,0.5,0.75,1],datum.value)>=0","value":1.1},"value":0.55}}},
         "y":{"field":"lo","type":"quantitative","scale":{"domain":[-313,4282],"nice":false,"zero":false},
          "axis":{"values":[0,500,1000,1500,2000,2500,3000,3500,4000],"title":"Normalized read counts","titleFontSize":19,"titleX":-56,"titleBaseline":"middle","labelFontSize":15,"labelPadding":1.5,"grid":true,
           "labelExpr":"indexof([0,1000,2000,3000,4000],datum.value)>=0 ? format(datum.value,'d') : ''",
           "tickOpacity":{"condition":{"test":"indexof([0,1000,2000,3000,4000],datum.value)>=0","value":1},"value":0},
           "gridWidth":{"condition":{"test":"indexof([0,1000,2000,3000,4000],datum.value)>=0","value":1.1},"value":0.55}}},
         "y2":{"field":"hi"}
        }},
       {"data":{"name":"E_band"},"mark":{"type":"line","color":"#3d64c8","strokeWidth":2.8},
        "encoding":{
         "x":{"field":"x","type":"quantitative","scale":{"domain":[-0.05,1.05],"nice":false,"zero":false},
          "axis":{"values":[0,0.125,0.25,0.375,0.5,0.625,0.75,0.875,1],"title":"Share of DNA in dilutions","titleFontSize":18.5,"titleX":193,"titleY":46.8,"titleBaseline":"middle","labelFontSize":15,"labelPadding":2,"grid":true,
           "labelExpr":"indexof([0,0.25,0.5,0.75,1],datum.value)>=0 ? format(datum.value,'.2f') : ''",
           "tickOpacity":{"condition":{"test":"indexof([0,0.25,0.5,0.75,1],datum.value)>=0","value":1},"value":0},
           "gridWidth":{"condition":{"test":"indexof([0,0.25,0.5,0.75,1],datum.value)>=0","value":1.1},"value":0.55}}},
         "y":{"field":"fit","type":"quantitative","scale":{"domain":[-313,4282],"nice":false,"zero":false},
          "axis":{"values":[0,500,1000,1500,2000,2500,3000,3500,4000],"title":"Normalized read counts","titleFontSize":19,"titleX":-56,"titleBaseline":"middle","labelFontSize":15,"labelPadding":1.5,"grid":true,
           "labelExpr":"indexof([0,1000,2000,3000,4000],datum.value)>=0 ? format(datum.value,'d') : ''",
           "tickOpacity":{"condition":{"test":"indexof([0,1000,2000,3000,4000],datum.value)>=0","value":1},"value":0},
           "gridWidth":{"condition":{"test":"indexof([0,1000,2000,3000,4000],datum.value)>=0","value":1.1},"value":0.55}}}
        }},
       {"data":{"name":"E_pts"},"mark":{"type":"circle","color":"#000000","size":30,"opacity":1},
        "encoding":{
         "x":{"field":"share","type":"quantitative","scale":{"domain":[-0.05,1.05],"nice":false,"zero":false},
          "axis":{"values":[0,0.125,0.25,0.375,0.5,0.625,0.75,0.875,1],"title":"Share of DNA in dilutions","titleFontSize":18.5,"titleX":193,"titleY":46.8,"titleBaseline":"middle","labelFontSize":15,"labelPadding":2,"grid":true,
           "labelExpr":"indexof([0,0.25,0.5,0.75,1],datum.value)>=0 ? format(datum.value,'.2f') : ''",
           "tickOpacity":{"condition":{"test":"indexof([0,0.25,0.5,0.75,1],datum.value)>=0","value":1},"value":0},
           "gridWidth":{"condition":{"test":"indexof([0,0.25,0.5,0.75,1],datum.value)>=0","value":1.1},"value":0.55}}},
         "y":{"field":"reads","type":"quantitative","scale":{"domain":[-313,4282],"nice":false,"zero":false},
          "axis":{"values":[0,500,1000,1500,2000,2500,3000,3500,4000],"title":"Normalized read counts","titleFontSize":19,"titleX":-56,"titleBaseline":"middle","labelFontSize":15,"labelPadding":1.5,"grid":true,
           "labelExpr":"indexof([0,1000,2000,3000,4000],datum.value)>=0 ? format(datum.value,'d') : ''",
           "tickOpacity":{"condition":{"test":"indexof([0,1000,2000,3000,4000],datum.value)>=0","value":1},"value":0},
           "gridWidth":{"condition":{"test":"indexof([0,1000,2000,3000,4000],datum.value)>=0","value":1.1},"value":0.55}}}
        }},
       {"data":{"values":[{"x":0,"y":3969,"label":"R\u00b2=0.99"}]},"mark":{"type":"text","align":"left","baseline":"middle","fontSize":14.5,"color":"#000000"},
        "encoding":{
         "x":{"field":"x","type":"quantitative","scale":{"domain":[-0.05,1.05],"nice":false,"zero":false},
          "axis":{"values":[0,0.125,0.25,0.375,0.5,0.625,0.75,0.875,1],"title":"Share of DNA in dilutions","titleFontSize":18.5,"titleX":193,"titleY":46.8,"titleBaseline":"middle","labelFontSize":15,"labelPadding":2,"grid":true,
           "labelExpr":"indexof([0,0.25,0.5,0.75,1],datum.value)>=0 ? format(datum.value,'.2f') : ''",
           "tickOpacity":{"condition":{"test":"indexof([0,0.25,0.5,0.75,1],datum.value)>=0","value":1},"value":0},
           "gridWidth":{"condition":{"test":"indexof([0,0.25,0.5,0.75,1],datum.value)>=0","value":1.1},"value":0.55}}},
         "y":{"field":"y","type":"quantitative","scale":{"domain":[-313,4282],"nice":false,"zero":false},
          "axis":{"values":[0,500,1000,1500,2000,2500,3000,3500,4000],"title":"Normalized read counts","titleFontSize":19,"titleX":-56,"titleBaseline":"middle","labelFontSize":15,"labelPadding":1.5,"grid":true,
           "labelExpr":"indexof([0,1000,2000,3000,4000],datum.value)>=0 ? format(datum.value,'d') : ''",
           "tickOpacity":{"condition":{"test":"indexof([0,1000,2000,3000,4000],datum.value)>=0","value":1},"value":0},
           "gridWidth":{"condition":{"test":"indexof([0,1000,2000,3000,4000],datum.value)>=0","value":1.1},"value":0.55}}},
         "text":{"field":"label"}
        }}
      ]}
    ]
   }
  ]
 }
]
}
